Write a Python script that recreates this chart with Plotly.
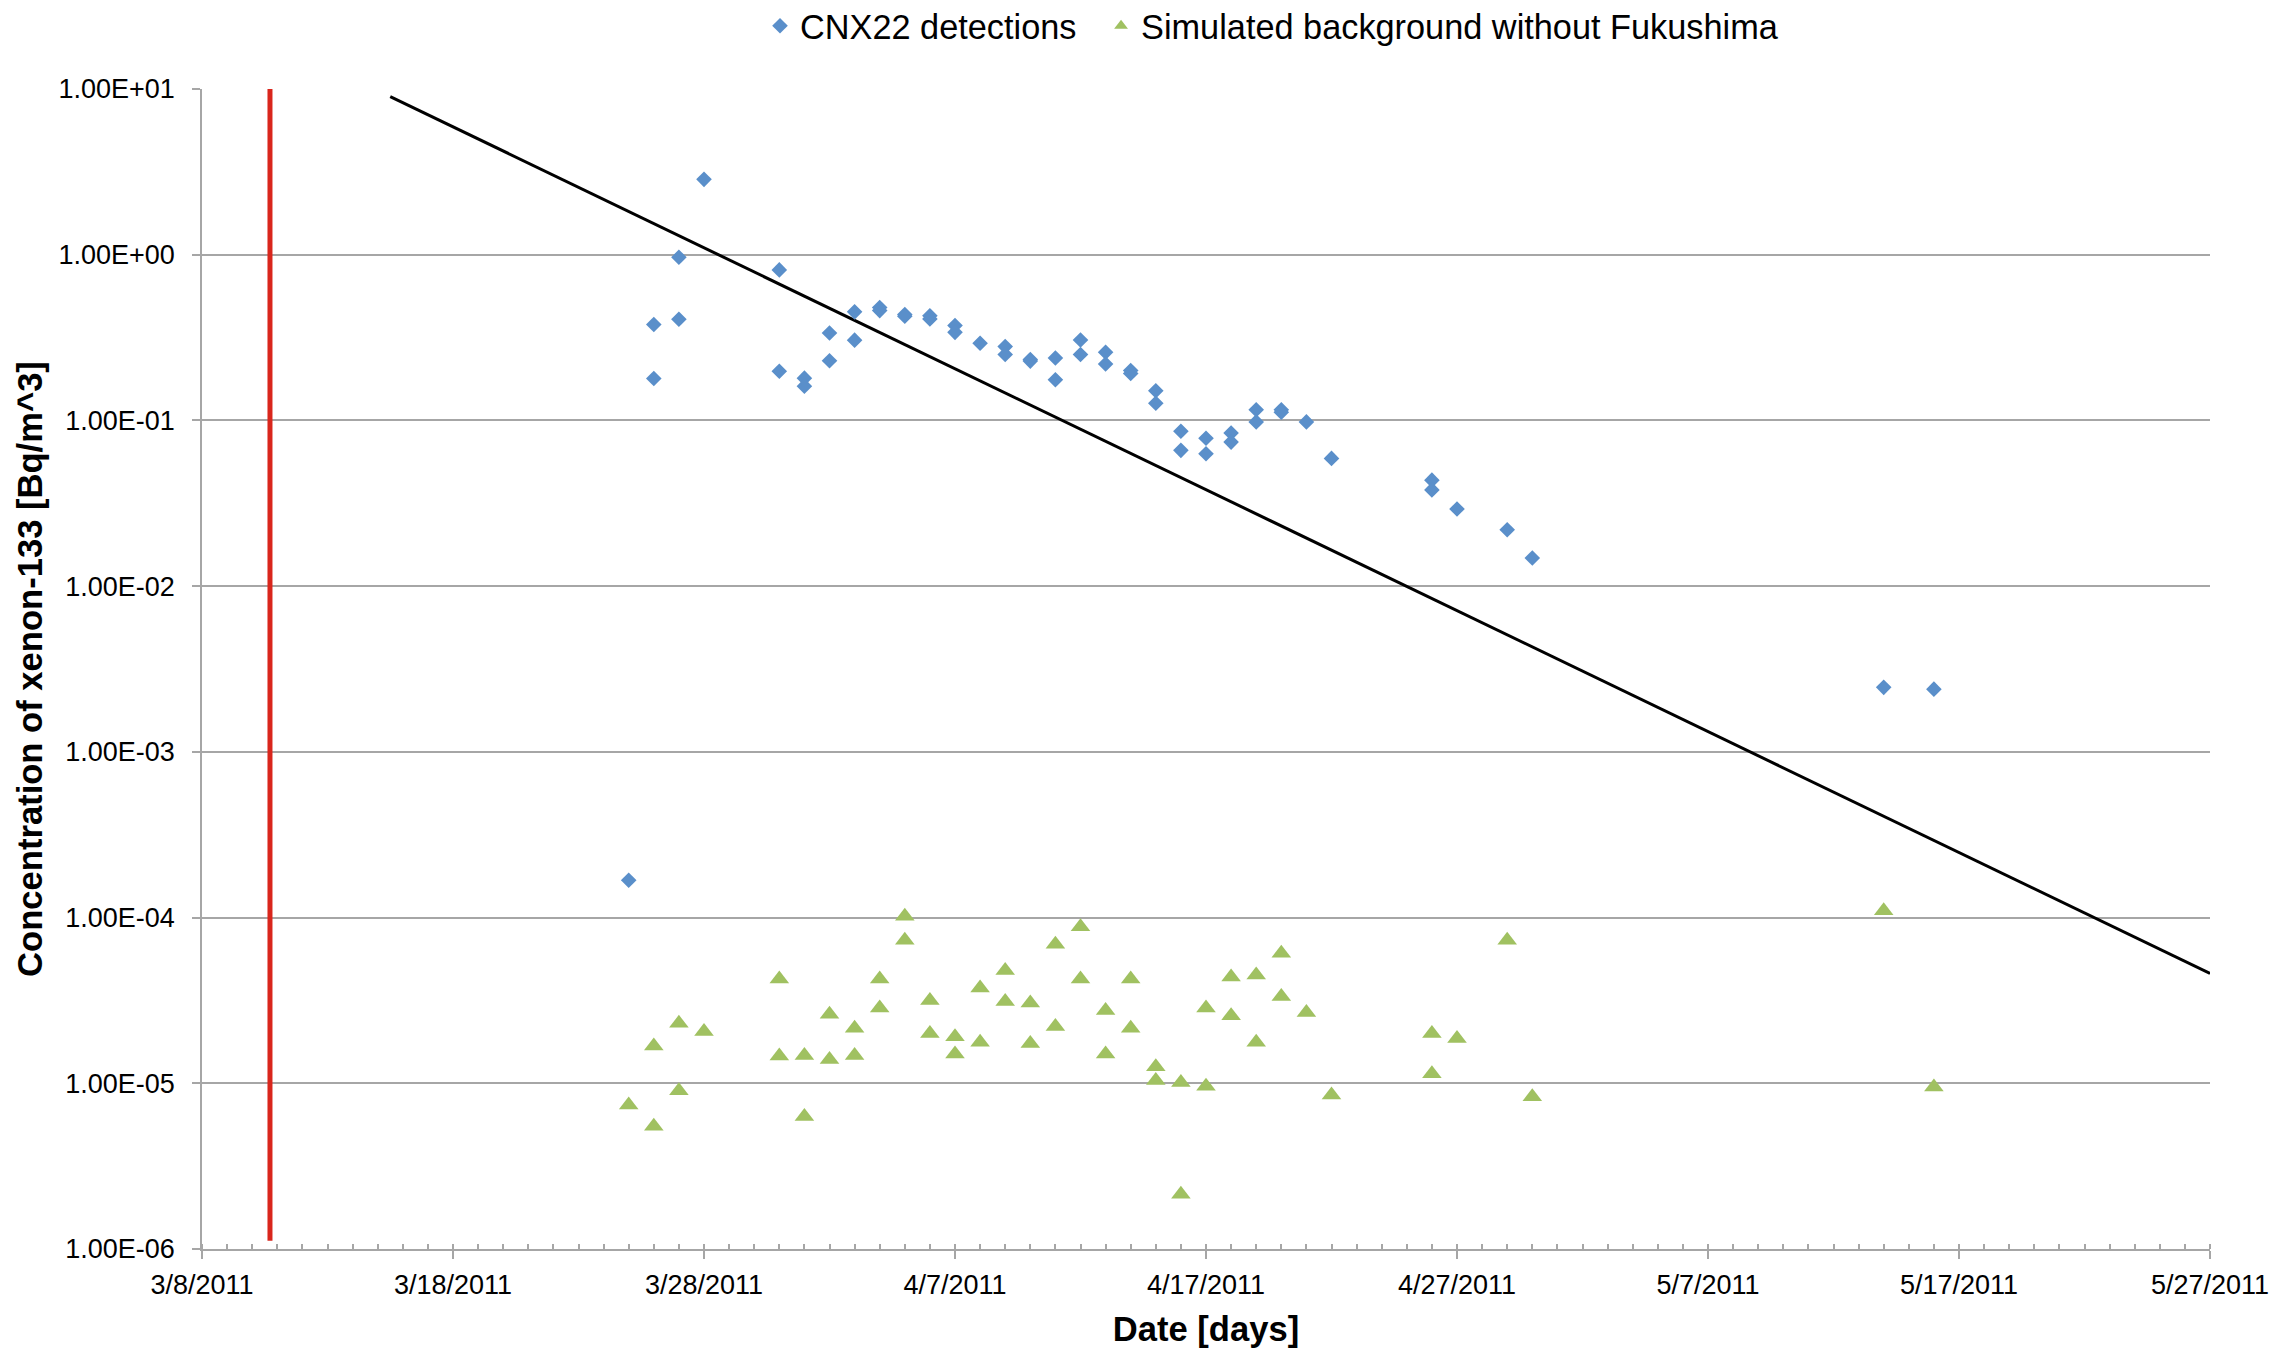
import plotly.graph_objects as go

# ---------------- data ----------------
cnx22_dates = [
    "2011-03-25", "2011-03-26", "2011-03-26", "2011-03-27", "2011-03-27", "2011-03-28",
    "2011-03-31", "2011-03-31", "2011-04-01", "2011-04-01", "2011-04-02", "2011-04-02",
    "2011-04-03", "2011-04-03", "2011-04-04", "2011-04-04", "2011-04-05", "2011-04-05",
    "2011-04-06", "2011-04-06", "2011-04-07", "2011-04-07", "2011-04-08", "2011-04-09",
    "2011-04-09", "2011-04-10", "2011-04-10", "2011-04-11", "2011-04-11", "2011-04-12",
    "2011-04-12", "2011-04-13", "2011-04-13", "2011-04-14", "2011-04-14", "2011-04-15",
    "2011-04-15", "2011-04-16", "2011-04-16", "2011-04-17", "2011-04-17", "2011-04-18",
    "2011-04-18", "2011-04-19", "2011-04-19", "2011-04-20", "2011-04-20", "2011-04-21",
    "2011-04-22", "2011-04-26", "2011-04-26", "2011-04-27", "2011-04-29", "2011-04-30",
    "2011-05-14", "2011-05-16",
]
cnx22_values = [
    1.68e-4, 0.379, 0.179, 0.965, 0.408, 2.85,
    0.81, 0.198, 0.18, 0.161, 0.337, 0.229,
    0.452, 0.305, 0.48, 0.46, 0.435, 0.425,
    0.428, 0.41, 0.374, 0.34, 0.292, 0.279,
    0.25, 0.233, 0.228, 0.238, 0.176, 0.306,
    0.25, 0.258, 0.219, 0.2, 0.192, 0.151,
    0.127, 0.086, 0.066, 0.078, 0.063, 0.084,
    0.074, 0.116, 0.098, 0.116, 0.112, 0.098,
    0.059, 0.0436, 0.0381, 0.0292, 0.0219, 0.0148,
    0.00245, 0.00239,
]

background_dates = [
    "2011-03-25", "2011-03-26", "2011-03-26", "2011-03-27", "2011-03-27", "2011-03-28",
    "2011-03-31", "2011-03-31", "2011-04-01", "2011-04-01", "2011-04-02", "2011-04-02",
    "2011-04-03", "2011-04-03", "2011-04-04", "2011-04-04", "2011-04-05", "2011-04-05",
    "2011-04-06", "2011-04-06", "2011-04-07", "2011-04-07", "2011-04-08", "2011-04-08",
    "2011-04-09", "2011-04-09", "2011-04-10", "2011-04-10", "2011-04-11", "2011-04-11",
    "2011-04-12", "2011-04-12", "2011-04-13", "2011-04-13", "2011-04-14", "2011-04-14",
    "2011-04-15", "2011-04-15", "2011-04-16", "2011-04-16", "2011-04-17", "2011-04-17",
    "2011-04-18", "2011-04-18", "2011-04-19", "2011-04-19", "2011-04-20", "2011-04-20",
    "2011-04-21", "2011-04-22", "2011-04-26", "2011-04-26", "2011-04-27", "2011-04-29",
    "2011-04-30", "2011-05-14", "2011-05-16",
]
background_values = [
    7.4e-6, 1.68e-5, 5.5e-6, 2.3e-5, 9.0e-6, 2.05e-5,
    4.26e-5, 1.46e-5, 1.47e-5, 6.3e-6, 2.61e-5, 1.39e-5,
    2.15e-5, 1.47e-5, 4.26e-5, 2.85e-5, 1.02e-4, 7.3e-5,
    3.16e-5, 2.0e-5, 1.91e-5, 1.5e-5, 3.76e-5, 1.77e-5,
    4.8e-5, 3.12e-5, 3.05e-5, 1.74e-5, 6.9e-5, 2.2e-5,
    8.8e-5, 4.26e-5, 2.75e-5, 1.5e-5, 4.26e-5, 2.15e-5,
    1.26e-5, 1.04e-5, 1.01e-5, 2.14e-6, 2.85e-5, 9.6e-6,
    4.38e-5, 2.56e-5, 4.5e-5, 1.77e-5, 6.1e-5, 3.34e-5,
    2.67e-5, 8.5e-6, 2.0e-5, 1.14e-5, 1.86e-5, 7.3e-5,
    8.3e-6, 1.1e-4, 9.5e-6,
]

# decay reference line (black)
decay_dates = ["2011-03-15 12:00", "2011-05-27 00:00"]
decay_values = [9.0, 4.6e-5]

# Fukushima accident marker (red)
accident_dates = ["2011-03-10 17:00", "2011-03-10 17:00"]
accident_values = [10.0, 1.12e-6]

# axis ticks
x_tick_dates = ["2011-03-08", "2011-03-18", "2011-03-28", "2011-04-07", "2011-04-17",
                "2011-04-27", "2011-05-07", "2011-05-17", "2011-05-27"]
x_tick_labels = ["3/8/2011", "3/18/2011", "3/28/2011", "4/7/2011", "4/17/2011",
                 "4/27/2011", "5/7/2011", "5/17/2011", "5/27/2011"]
y_tick_values = [1e-6, 1e-5, 1e-4, 1e-3, 1e-2, 1e-1, 1e0, 1e1]
y_tick_labels = ["1.00E-06", "1.00E-05", "1.00E-04", "1.00E-03", "1.00E-02",
                 "1.00E-01", "1.00E+00", "1.00E+01"]

FONT = "Liberation Sans, Arial, sans-serif"
GRID = "#a6a6a6"

fig = go.Figure()

fig.add_trace(go.Scatter(
    x=accident_dates, y=accident_values, mode="lines",
    line=dict(color="#d9261c", width=5), showlegend=False, hoverinfo="skip",
))
fig.add_trace(go.Scatter(
    x=decay_dates, y=decay_values, mode="lines",
    line=dict(color="#000000", width=3), showlegend=False, hoverinfo="skip",
))
fig.add_trace(go.Scatter(
    x=cnx22_dates, y=cnx22_values, mode="markers", name="CNX22 detections",
    marker=dict(symbol="diamond", size=12, color="#5a8fca", line=dict(width=0)),
    legend="legend",
))
fig.add_trace(go.Scatter(
    x=background_dates, y=background_values, mode="markers",
    name="Simulated background without Fukushima",
    marker=dict(symbol="triangle-up", size=17, color="#a0c161", line=dict(width=0)),
    legend="legend2",
))

legend_common = dict(
    orientation="h", xref="container", yref="container",
    xanchor="left", y=0.9867, yanchor="middle",
    font=dict(family=FONT, size=34.3, color="#000000"),
    bgcolor="rgba(0,0,0,0)", itemsizing="constant",
)

fig.update_layout(
    width=2292, height=1349,
    margin=dict(l=194, r=90, t=81, b=108, autoexpand=False),
    paper_bgcolor="white", plot_bgcolor="white",
    font=dict(family=FONT, color="#000000", size=26),
    legend=dict(x=0.3281, **legend_common),
    legend2=dict(x=0.4769, **legend_common),
    showlegend=True,
)

fig.update_xaxes(
    type="date", automargin=False,
    range=["2011-03-08", "2011-05-27"],
    tickmode="array", tickvals=x_tick_dates, ticktext=x_tick_labels,
    ticks="outside", ticklen=8, tickwidth=1.5, tickcolor=GRID,
    ticklabelstandoff=3,
    minor=dict(dtick=86400000, ticks="inside", ticklen=5, tickwidth=1.5,
               tickcolor=GRID, showgrid=False),
    showline=True, linecolor=GRID, linewidth=1.5,
    showgrid=False, zeroline=False,
    tickfont=dict(family=FONT, size=27, color="#000000"),
    title=dict(text="<b>Date [days]</b>", font=dict(family=FONT, size=34.6, color="#000000"),
               standoff=18),
)
fig.update_yaxes(
    type="log", range=[-6, 1], automargin=False,
    tickmode="array", tickvals=y_tick_values, ticktext=y_tick_labels,
    ticks="outside", ticklen=8, tickwidth=1.5, tickcolor=GRID,
    ticklabelstandoff=12,
    showline=True, linecolor=GRID, linewidth=1.5,
    showgrid=True, gridcolor=GRID, gridwidth=1.5, zeroline=False,
    tickfont=dict(family=FONT, size=27, color="#000000"),
    title=dict(text="<b>Concentration of xenon-133 [Bq/m^3]</b>",
               font=dict(family=FONT, size=34.6, color="#000000"), standoff=5),
)

fig.write_html("out.html")
